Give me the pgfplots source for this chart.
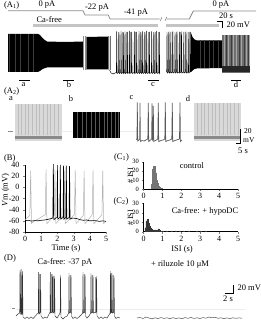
\documentclass[border=0pt]{standalone}
\usepackage{fontspec}
\setmainfont{Liberation Serif}
\usepackage{pgfplots}
\pgfplotsset{compat=1.18}
\newcommand\lbl{\fontsize{8.5}{9}\selectfont}
\newcommand\tck{\fontsize{8}{8}\selectfont}
\newcommand\stck{\fontsize{6.5}{6.5}\selectfont}
\definecolor{cmd}{HTML}{8C8C8C}
\definecolor{cabar}{HTML}{C4C4C4}
\definecolor{lgr}{HTML}{D9D9D9}
\definecolor{lstreak}{HTML}{BDBDBD}
\definecolor{band}{HTML}{8A8A8A}
\definecolor{dstreak}{HTML}{3C3C3C}
\definecolor{midg}{HTML}{6E6E6E}
\definecolor{histc}{HTML}{A6A6A6}
\definecolor{histd}{HTML}{383838}
\begin{document}
\begin{tikzpicture}
\useasboundingbox (0,0) rectangle (261pt,323pt);
% ---------------- canvas: traces drawn in pixel-like units ----------------
\begin{axis}[name=canvas, at={(0pt,0pt)}, anchor=south west, width=261pt, height=323pt,
  scale only axis, xmin=0, xmax=261, ymin=0, ymax=323, y dir=reverse, hide axis,
  clip=false, unbounded coords=jump]
% ===== (A1) =====
\addplot[cmd, line width=0.8pt] coordinates {(8,10.7) (83,10.7) (85,15) (108.3,15) (110,19) (159.5,19)};
\addplot[cmd, line width=0.8pt] coordinates {(166.7,19) (189.3,19) (193.3,11) (256,11)};
\addplot[cmd, line width=0.6pt] coordinates {(160.2,21) (162,17) (162,nan) (165,21) (166.8,17)};
\addplot[cabar, line width=2.4pt] coordinates {(33,25.5) (158,25.5)};
\addplot[cabar, line width=2.4pt] coordinates {(166,25.5) (219,25.5)};
\addplot[black, line width=0.6pt] coordinates {(217,21) (222,21) (222,28)};
\addplot[fill=black, draw=none] coordinates {(8,34) (38,34) (40,35) (42,37.5) (44,39.5) (47,41.5) (65,42) (83,41.5) (83,67.5) (65,67.5) (47,67.5) (44,68.5) (42,69.5) (40,71) (38,72) (8,72)} -- cycle;
\addplot[dstreak, line width=0.5pt] coordinates {(9,34) (9,72) (9,nan) (15,34) (15,72) (15,nan) (20,34) (20,72) (20,nan) (28,34) (28,72) (28,nan) (33,34) (33,72)};
\addplot[cmd, line width=0.6pt] coordinates {(83.6,36) (83.6,70) (83.6,nan) (85,36) (85,70)};
\addplot[fill=black, draw=none] coordinates {(86,37) (109,36.5) (109,69.5) (86,69.5)} -- cycle;
\addplot[midg, line width=0.6pt] coordinates {(86.5,37) (86.5,69.5) (86.5,nan) (108.6,36.5) (108.6,69.5) (108.6,nan) (110,36) (110,70)};
\addplot[gray!80, line width=0.6pt] coordinates {(117.9,32) (117.9,73) (117.9,nan) (122.2,32) (122.2,73) (122.2,nan) (126.2,32) (126.2,73) (126.2,nan) (130.5,32) (130.5,73) (130.5,nan) (135.5,32) (135.5,73) (135.5,nan) (140,32) (140,73) (140,nan) (143.9,32) (143.9,73) (143.9,nan) (148,32) (148,73) (148,nan) (153,32) (153,73) (153,nan) (155.4,32) (155.4,73) (155.4,nan) (158,32) (158,73)};
\addplot[black, line width=0.45pt] coordinates {(109.5,70) (111,73) (113,74) (115,73) (116.4,72.5) (116.7,31.5) (117.1,73.5) (118.7,72.5) (119,32) (119.4,73.5) (120.7,72.5) (121,31) (121.4,73.5) (123,72.5) (123.3,32.5) (123.7,73.5) (124.7,72.5) (125,31.5) (125.4,73.5) (127,72.5) (127.3,32) (127.7,73.5) (129,72.5) (129.3,31) (129.7,73.5) (131.4,72.5) (131.7,32) (132.1,73.5) (134,72.5) (134.3,31.5) (134.7,73.5) (136.4,72.5) (136.7,32) (137.1,73.5) (138.7,72.5) (139,31) (139.4,73.5) (140.7,72.5) (141,32) (141.4,73.5) (142.4,72.5) (142.7,31.5) (143.1,73.5) (144.7,72.5) (145,32) (145.4,73.5) (146.4,72.5) (146.7,31) (147.1,73.5) (149,72.5) (149.3,32) (149.7,73.5) (151.4,72.5) (151.7,31.5) (152.1,73.5) (153.7,72.5) (154,32) (154.4,73.5) (156.4,72.5) (156.7,31) (157.1,73.5) (159,72.5) (159.3,32) (159.7,73.5) (160,73)};
\addplot[gray!80, line width=0.6pt] coordinates {(168,32) (168,72) (168,nan) (171.8,32) (171.8,72) (171.8,nan) (176,32) (176,72) (176,nan) (180.4,32) (180.4,72) (180.4,nan) (185,32) (185,72) (185,nan) (189.2,32) (189.2,72)};
\addplot[black, line width=0.45pt] coordinates {(166,72) (166.7,72) (167,32) (167.4,73) (168.7,72) (169,31.5) (169.4,73) (170.5,72) (170.8,32) (171.2,73) (172.5,72) (172.8,31.5) (173.2,73) (174.7,72) (175,32) (175.4,73) (176.7,72) (177,31.5) (177.4,73) (179,72) (179.3,32) (179.7,73) (181.2,72) (181.5,31.5) (181.9,73) (183.5,72) (183.8,32) (184.2,73) (185.7,72) (186,31.5) (186.4,73) (187.9,72) (188.2,32) (188.6,73) (190,72) (190.3,32) (190.7,72)};
\addplot[fill=black, draw=none] coordinates {(191,33) (192.5,37) (194.5,39.5) (197,40.5) (222,40.5) (222,68) (197,68.5) (194.5,69) (192.5,70.5) (191,72)} -- cycle;
\addplot[dstreak, line width=0.5pt] coordinates {(200,40.5) (200,68) (200,nan) (204,40.5) (204,68) (204,nan) (209,40.5) (209,68) (209,nan) (213,40.5) (213,68) (213,nan) (218,40.5) (218,68)};
\addplot[fill=midg, draw=none] coordinates {(222,35) (250,35) (250,73) (222,73)} -- cycle;
\addplot[gray!70, line width=0.6pt] coordinates {(224,35) (224,66) (224,nan) (228,35) (228,66) (228,nan) (233,35) (233,66) (233,nan) (236,35) (236,66) (236,nan) (241,35) (241,66) (241,nan) (246,35) (246,66) (246,nan) (249,35) (249,66)};
\addplot[dstreak, line width=0.5pt] coordinates {(226,35) (226,66) (226,nan) (231,35) (231,66) (231,nan) (239,35) (239,66) (239,nan) (244,35) (244,66) (244,nan) (248,35) (248,66)};
\addplot[fill=black!85, draw=none] coordinates {(222,66) (250,66) (250,72.5) (222,72.5)} -- cycle;
\addplot[black, line width=0.6pt] coordinates {(19,80) (30,80) (30,nan) (63,80) (74,80) (74,nan) (148,80) (159,80) (159,nan) (230.5,80) (240.5,80)};
\node[font=\lbl] at (axis cs:23.5,84.5) {a};
\node[font=\lbl] at (axis cs:69,84.5) {b};
\node[font=\lbl] at (axis cs:153,84.5) {c};
\node[font=\lbl] at (axis cs:236,84.5) {d};
\node[font=\lbl, anchor=west] at (axis cs:0.5,5) {(A\textsubscript{1})};
\node[font=\lbl] at (axis cs:47,5) {0 pA};
\node[font=\lbl] at (axis cs:97,7.5) {-22 pA};
\node[font=\lbl] at (axis cs:136,12.5) {-41 pA};
\node[font=\lbl] at (axis cs:221,5) {0 pA};
\node[font=\lbl] at (axis cs:226,15.5) {20 s};
\node[font=\lbl, anchor=west] at (axis cs:33,19.5) {Ca-free};
\node[font=\lbl, anchor=west] at (axis cs:223,25) {20 mV};
% ===== (A2) =====
\node[font=\lbl, anchor=west] at (axis cs:0.5,91) {(A\textsubscript{2})};
\node[font=\lbl] at (axis cs:11,99) {a};
\node[font=\lbl] at (axis cs:71,99) {b};
\node[font=\lbl] at (axis cs:131.5,98) {c};
\node[font=\lbl] at (axis cs:188,99) {d};
\addplot[gray!15, line width=0.4pt] coordinates {(15,131) (241,131)};
\addplot[gray!90, line width=0.6pt] coordinates {(8,131) (13,131)};
\addplot[fill=lgr, draw=none] coordinates {(15,104) (62,104) (62,140.5) (15,140.5)} -- cycle;
\addplot[lstreak, line width=0.5pt] coordinates {(18,104) (18,135) (18,nan) (21,104) (21,135) (21,nan) (25,104) (25,135) (25,nan) (28,104) (28,135) (28,nan) (32,104) (32,135) (32,nan) (36,104) (36,135) (36,nan) (39,104) (39,135) (39,nan) (43,104) (43,135) (43,nan) (47,104) (47,135) (47,nan) (50,104) (50,135) (50,nan) (54,104) (54,135) (54,nan) (58,104) (58,135)};
\addplot[fill=band, draw=none] coordinates {(15,135.5) (62,135.5) (62,138.5) (15,138.5)} -- cycle;
\addplot[fill=black, draw=none] coordinates {(73,112) (120,112) (120,138.3) (73,138.3)} -- cycle;
\addplot[midg!80!black, line width=0.5pt] coordinates {(77,112) (77,138) (77,nan) (82,112) (82,138) (82,nan) (86,112) (86,138) (86,nan) (91,112) (91,138) (91,nan) (95,112) (95,138) (95,nan) (99,112) (99,138) (99,nan) (104,112) (104,138) (104,nan) (107,112) (107,138) (107,nan) (111,112) (111,138) (111,nan) (115,112) (115,138) (115,nan) (118,112) (118,138)};
\addplot[black!65, line width=0.7pt] coordinates {(136,139.5) (137,139) (137.3,102.5) (137.7,141) (139,140) (139.7,139) (140,103) (140.4,141.5) (142,140.5) (144,141) (146,140) (147.8,139) (148.3,103) (148.7,141.5) (150.5,140) (151.7,139) (152,103.5) (152.4,140) (153,139) (153.3,106) (153.7,141.5) (155.5,140.5) (157.8,139) (158.3,103) (158.7,141.5) (161,140.5) (163,140) (164.8,139) (165.3,102.5) (165.7,141.5) (168,140.5) (170,140) (171.8,139) (172.3,103) (172.7,141.5) (175,140.5) (178,139.5) (179.5,139) (180,102.5) (180.4,141.5) (182,140)};
\addplot[fill=lgr, draw=none] coordinates {(194,103.5) (241,103.5) (241,140.5) (194,140.5)} -- cycle;
\addplot[lstreak, line width=0.5pt] coordinates {(197,103.5) (197,135) (197,nan) (201,103.5) (201,135) (201,nan) (204,103.5) (204,135) (204,nan) (208,103.5) (208,135) (208,nan) (212,103.5) (212,135) (212,nan) (215,103.5) (215,135) (215,nan) (219,103.5) (219,135) (219,nan) (223,103.5) (223,135) (223,nan) (227,103.5) (227,135) (227,nan) (230,103.5) (230,135) (230,nan) (234,103.5) (234,135) (234,nan) (238,103.5) (238,135)};
\addplot[fill=band, draw=none] coordinates {(194,135.5) (241,135.5) (241,138.5) (194,138.5)} -- cycle;
\addplot[black, line width=0.6pt] coordinates {(235.5,143) (240.5,143) (240.5,129)};
\node[font=\fontsize{7.5}{8}\selectfont, anchor=west, inner sep=1pt] at (axis cs:243,131.5) {20};
\node[font=\fontsize{7.5}{8}\selectfont, anchor=west, inner sep=1pt] at (axis cs:242,140) {mV};
\node[font=\lbl] at (axis cs:243,150.5) {5 s};
% ===== labels for B and C =====
\node[font=\lbl, anchor=west] at (axis cs:0.5,158) {(B)};
\node[font=\lbl, rotate=90] at (axis cs:5.5,190) {\textit{V}m (mV)};
\node[font=\lbl] at (axis cs:66,248) {Time (s)};
\node[font=\lbl, anchor=west] at (axis cs:110.5,157) {(C\textsubscript{1})};
\node[font=\lbl, anchor=west] at (axis cs:110,201) {(C\textsubscript{2})};
\node[font=\fontsize{8}{8}\selectfont, rotate=90] at (axis cs:130.5,176) {\# ISI};
\node[font=\fontsize{8}{8}\selectfont, rotate=90] at (axis cs:130.5,218) {\# ISI};
\node[font=\lbl] at (axis cs:192,166) {control};
\node[font=\lbl] at (axis cs:205,211) {Ca-free: + hypoDC};
\node[font=\lbl] at (axis cs:182,249) {ISI (s)};
% ===== (D) =====
\node[font=\lbl, anchor=west] at (axis cs:0.5,258) {(D)};
\node[font=\lbl] at (axis cs:65,262) {Ca-free: -37 pA};
\node[font=\lbl] at (axis cs:180,264) {+ riluzole 10 μM};
\addplot[gray!15, line width=0.4pt] coordinates {(16,309) (245,309)};
\addplot[gray!90, line width=0.6pt] coordinates {(11.5,308.5) (14.5,308.5)};
\addplot[gray!75, line width=0.6pt] coordinates {(21.8,271) (21.8,315) (21.8,nan) (39.5,274) (39.5,314) (39.5,nan) (51.3,274) (51.3,313) (51.3,nan) (53.5,276) (53.5,313) (53.5,nan) (70,275) (70,313) (70,nan) (84,274) (84,313) (84,nan) (92,275) (92,313) (92,nan) (95,277) (95,313) (95,nan) (111.2,273) (111.2,313) (111.2,nan) (113,275) (113,313)};
\addplot[black!80, line width=0.45pt] coordinates {(16,316) (18,314) (19.7,313) (20,270) (20.5,314) (21,313) (21.2,269) (21.7,314) (22.2,313) (22.5,272) (23,317) (25,318.5) (27,317) (29,318.5) (31,317) (33,318.5) (35,316.5) (37,314) (38.3,313) (38.6,272) (39,314) (40.3,312) (40.6,274) (41,316) (43,318.5) (45,317) (47,318) (49,314) (50,312) (50.3,272) (50.7,313) (52.2,312) (52.5,274) (52.9,313) (54.2,312) (54.5,276) (55,316) (57,318) (59,315) (60.2,312) (60.5,275) (61,317) (63,319) (65,317) (67,316) (68.7,313) (69,273) (69.4,313) (70.7,312) (71,275) (71.5,316) (73,318.5) (75,317) (77,318.5) (79,317) (81,315) (82.7,313) (83,272) (83.4,313) (84.7,312) (85,274) (85.5,316) (87,318) (89,316) (90.7,313) (91,273) (91.4,313) (92.7,312) (93,275) (93.4,313) (96.2,312) (96.5,276) (97,316) (99,318.5) (101,317) (103,318.5) (105,317) (107,318) (109,315) (110.2,313) (110.5,271) (110.9,313) (111.7,312) (112,273) (112.4,313) (113.7,312) (114,276) (114.5,316) (116,318.5) (118,317) (120,318)};
\addplot[black!75, line width=0.45pt] coordinates {(137,318) (140,317.5) (143,318.5) (146,317) (149,318) (152,318.8) (155,317.8) (158,318.5) (161,317.6) (164,318.4) (167,317.8) (170,318.6) (173,317.7) (176,318.5) (179,317.9) (182,318.7) (185,317.6) (188,318.3) (191,317.5) (194,318.4) (197,317.8) (200,318.5) (203,317.6) (206,318.2) (209,317) (212,317.8) (215,317.2) (218,318.3) (221,317.8) (224,318.6) (227,317.9) (230,318.5) (233,317.8) (236,318.3) (239,317.9) (242,318.2)};
\addplot[black, line width=0.6pt] coordinates {(224.5,293.5) (233,293.5) (233,285)};
\node[font=\lbl, anchor=west] at (axis cs:234,287.5) {20 mV};
\node[font=\lbl] at (axis cs:228,298.5) {2 s};
\end{axis}
% ---------------- (B) ----------------
\begin{axis}[at={(25pt,91pt)}, anchor=south west, width=81pt, height=67pt, scale only axis,
  xmin=0, xmax=5, ymin=-80, ymax=40, axis x line*=bottom, axis y line*=left,
  xtick={0,1,2,3,4,5}, ytick={-80,-60,-40,-20,0,20,40}, tick align=outside,
  major tick length=2pt, tick label style={font=\tck}, axis line style={line width=0.6pt},
  /pgf/number format/assume math mode=true, xticklabel style={yshift=1pt}]
\addplot[black!30, line width=0.5pt] coordinates {(0,-58) (0.3,-50) (0.35,30) (0.4,-65) (0.5,-62) (1.25,-49) (1.3,32) (1.35,-65) (1.45,-62) (1.8,-50) (1.85,32) (1.9,-65) (2.0,-62) (2.4,-50) (2.45,30) (2.5,-65) (2.6,-62) (3.05,-49) (3.1,31) (3.15,-65) (3.25,-62) (3.6,-50) (3.65,30) (3.7,-65) (3.8,-62) (4.15,-49) (4.2,31) (4.25,-65) (4.35,-62) (4.75,-49) (4.8,30) (4.85,-65) (5,-61)};
\addplot[black, line width=0.6pt] coordinates {(0,-60) (0.2,-59) (0.4,-60.5) (0.6,-59.5) (0.8,-60) (1.0,-59) (1.2,-58.5) (1.4,-57.5) (1.6,-56) (1.72,-55) (1.75,44) (1.78,-58) (1.9,-55) (1.98,-54) (2.0,40) (2.03,-57) (2.15,-54) (2.18,40) (2.21,-57) (2.35,-54) (2.38,39) (2.41,-57) (2.52,-54) (2.55,39) (2.58,-57) (2.72,-54) (2.75,38) (2.78,-57) (2.95,-55) (3.2,-56) (3.4,-58) (3.6,-59) (3.8,-58.5) (4.0,-60) (4.3,-59.5) (4.6,-61) (4.8,-60) (5,-61)};
\end{axis}
% ---------------- (C1) ----------------
\begin{axis}[at={(143.5pt,134pt)}, anchor=south west, width=94.5pt, height=27.3pt, scale only axis,
  xmin=0, xmax=5, ymin=0, ymax=30, axis x line*=bottom, axis y line*=left,
  xtick={0,1,2,3,4,5}, ytick={0,10,20,30}, tick align=outside,
  major tick length=2pt, xticklabel style={font=\tck, yshift=1pt}, yticklabel style={font=\stck, xshift=1pt},
  axis line style={line width=0.6pt}, /pgf/number format/assume math mode=true]
\addplot[ybar, bar width=0.05, bar shift=0pt, fill=histc, draw=histc!70!black, line width=0.2pt] coordinates {(0.45,5) (0.5,22) (0.55,25) (0.6,25) (0.65,18) (0.7,10) (0.75,6) (0.8,3) (0.85,2) (0.9,1) (0.95,1)};
\end{axis}
% ---------------- (C2) ----------------
\begin{axis}[at={(143.5pt,91.3pt)}, anchor=south west, width=94.5pt, height=28.4pt, scale only axis,
  xmin=0, xmax=5, ymin=0, ymax=30, axis x line*=bottom, axis y line*=left,
  xtick={0,1,2,3,4,5}, ytick={0,10,20,30}, tick align=outside,
  major tick length=2pt, xticklabel style={font=\tck, yshift=1pt}, yticklabel style={font=\stck, xshift=1pt},
  axis line style={line width=0.6pt}, /pgf/number format/assume math mode=true]
\addplot[ybar, bar width=0.05, bar shift=0pt, fill=histd, draw=histd, line width=0.2pt] coordinates {(0.1,4) (0.15,11) (0.2,13) (0.25,9) (0.3,6) (0.35,5) (0.4,4) (0.45,3) (0.5,2) (0.55,2) (0.6,1) (0.65,2) (0.7,1) (0.75,2) (0.8,3) (0.85,2) (0.9,1) (1.0,1) (1.2,1) (1.5,1) (1.7,1) (1.9,1) (2.1,1) (2.4,1) (2.8,1) (3.0,1) (3.3,1)};
\end{axis}
\end{tikzpicture}
\end{document}
